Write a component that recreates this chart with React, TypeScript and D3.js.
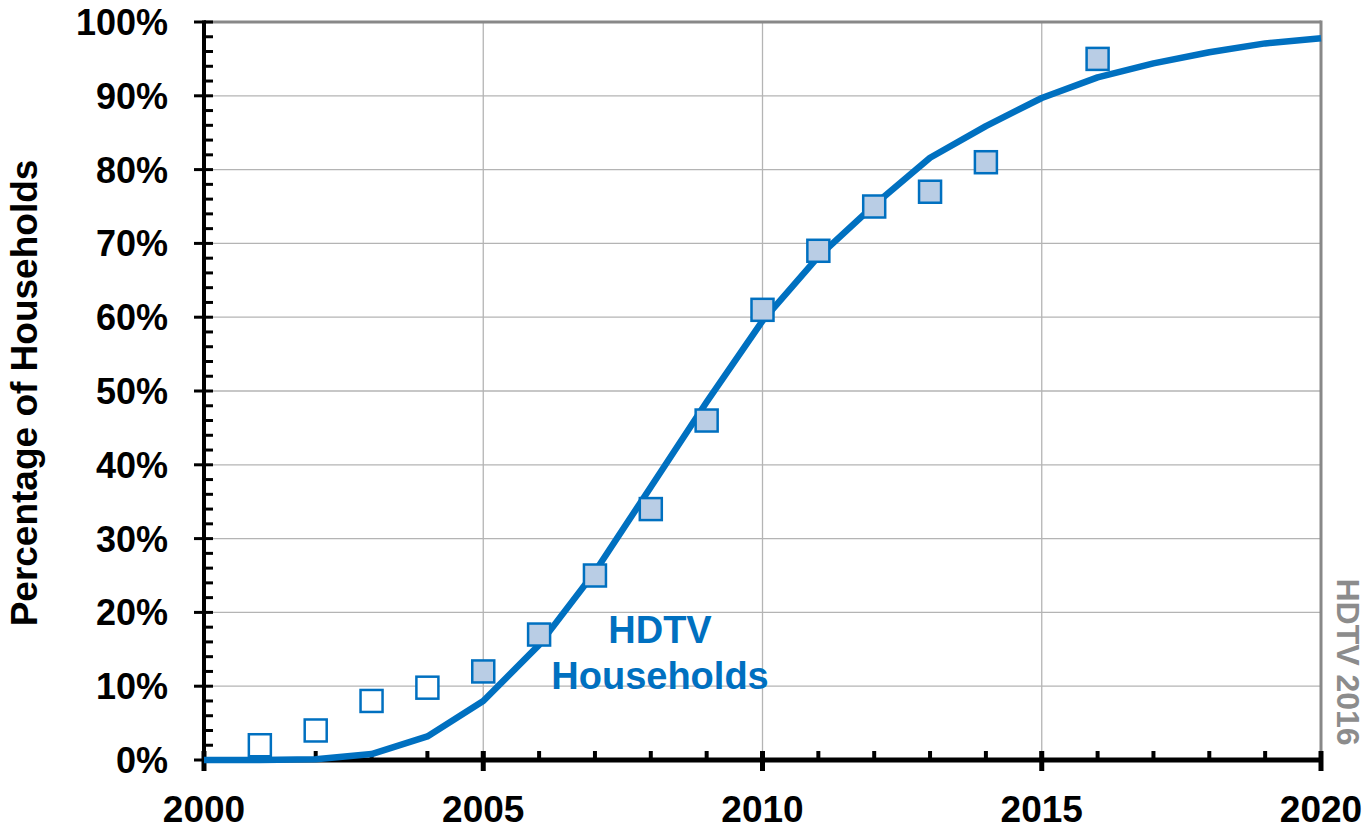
import React from 'react';
import * as d3 from 'd3';

// fitted curve, one value per year (percent of households)
const curveYears = [2000, 2001, 2002, 2003, 2004, 2005, 2006, 2007, 2008, 2009, 2010,
    2011, 2012, 2013, 2014, 2015, 2016, 2017, 2018, 2019, 2020];
const curveValues = [0, 0, 0.1, 0.8, 3.2, 8, 15.6, 25.5, 37, 48.5, 59.5,
    68.2, 75.2, 81.6, 85.9, 89.7, 92.5, 94.4, 95.9, 97.1, 97.8];

// survey points
const pointYears = [2001, 2002, 2003, 2004, 2005, 2006, 2007, 2008, 2009, 2010, 2011, 2012, 2013, 2014, 2016];
const pointValues = [2, 4, 8, 9.8, 12, 17, 25, 34, 46, 61, 69, 75, 77, 81, 95];
// early estimates drawn as open squares
const pointOpen = [true, true, true, true, false, false, false, false, false, false, false, false, false, false, false];

const yTickValues = [0, 10, 20, 30, 40, 50, 60, 70, 80, 90, 100];
const xTickValues = [2000, 2005, 2010, 2015, 2020];

const App = () => {
    const width = 1368;
    const height = 833;
    const margin = {t: 22, b: 73, l: 204, r: 47};
    const font = '"Liberation Sans", Arial, sans-serif';
    const blue = '#0070c0';

    const x = d3.scaleLinear().domain([2000, 2020]).range([margin.l, width - margin.r]);
    const y = d3.scaleLinear().domain([0, 100]).range([height - margin.b, margin.t]);

    const line = d3.line<number>()
        .x((d, i) => x(curveYears[i]))
        .y(d => y(d));

    const minorY = d3.range(0, 101, 2);
    const minorX = d3.range(2000, 2021, 1);
    const size = 22;

    return (
        <svg width={width} height={height} style={{position: 'absolute', left: 0, top: 0}}>
            <rect width={width} height={height} fill="#fff"/>
            {/* gridlines */}
            {yTickValues.map(d => (
                <line key={'gy' + d} x1={x(2000)} x2={x(2020)} y1={y(d)} y2={y(d)} stroke="#b4b4b4" strokeWidth={1.3}/>
            ))}
            {xTickValues.map(d => (
                <line key={'gx' + d} x1={x(d)} x2={x(d)} y1={y(0)} y2={y(100)} stroke="#b4b4b4" strokeWidth={1.3}/>
            ))}
            {/* top and right border */}
            <line x1={x(2000)} x2={x(2020)} y1={y(100)} y2={y(100)} stroke="#888" strokeWidth={3}/>
            <line x1={x(2020)} x2={x(2020)} y1={y(100) - 1.5} y2={y(0)} stroke="#888" strokeWidth={3}/>

            {/* y axis */}
            {minorY.map(d => (
                <line key={'my' + d} x1={x(2000)} x2={x(2000) + 9} y1={y(d)} y2={y(d)} stroke="#000" strokeWidth={3}/>
            ))}
            {yTickValues.map(d => (
                <g key={'ty' + d}>
                    <line x1={x(2000) - 10} x2={x(2000) + 2} y1={y(d)} y2={y(d)} stroke="#000" strokeWidth={3}/>
                    <text x={x(2000) - 36} y={y(d) + 13} textAnchor="end" fontFamily={font} fontWeight="bold" fontSize={36}>{d + '%'}</text>
                </g>
            ))}
            <line x1={x(2000)} x2={x(2000)} y1={y(100) - 1.5} y2={y(0)} stroke="#000" strokeWidth={4}/>

            {/* x axis */}
            {minorX.map(d => (
                <line key={'mx' + d} x1={x(d)} x2={x(d)} y1={y(0) - 9} y2={y(0)} stroke="#000" strokeWidth={4}/>
            ))}
            {xTickValues.map(d => (
                <g key={'tx' + d}>
                    <line x1={x(d)} x2={x(d)} y1={y(0) - 9} y2={y(0) + 11} stroke="#000" strokeWidth={5}/>
                    <text x={x(d)} y={y(0) + 62} textAnchor="middle" fontFamily={font} fontWeight="bold" fontSize={37}>{d}</text>
                </g>
            ))}
            <line x1={x(2000)} x2={x(2020)} y1={y(0)} y2={y(0)} stroke="#000" strokeWidth={5}/>

            {/* curve */}
            <path d={line(curveValues) || ''} fill="none" stroke={blue} strokeWidth={6.5} strokeLinejoin="round"/>

            {/* points */}
            {pointValues.map((d, i) => (
                <rect key={'p' + i} x={x(pointYears[i]) - size / 2} y={y(d) - size / 2} width={size} height={size}
                      fill={pointOpen[i] ? '#fff' : '#b9cde5'} stroke={blue} strokeWidth={2.5}/>
            ))}

            {/* labels */}
            <text fontFamily={font} fontWeight="bold" fontSize={38} fill={blue} textAnchor="middle">
                <tspan x={660} y={643}>HDTV</tspan>
                <tspan x={660} y={689}>Households</tspan>
            </text>
            <text transform={`translate(37,${(y(0) + y(100)) / 2 + 2}) rotate(-90)`} textAnchor="middle"
                  fontFamily={font} fontWeight="bold" fontSize={37}>Percentage of Households</text>
            <text transform={`translate(1337,662) rotate(90)`} textAnchor="middle"
                  fontFamily={font} fontWeight="bold" fontSize={32} fill="#8c8c8c">HDTV 2016</text>
        </svg>
    );
};

export default App;
